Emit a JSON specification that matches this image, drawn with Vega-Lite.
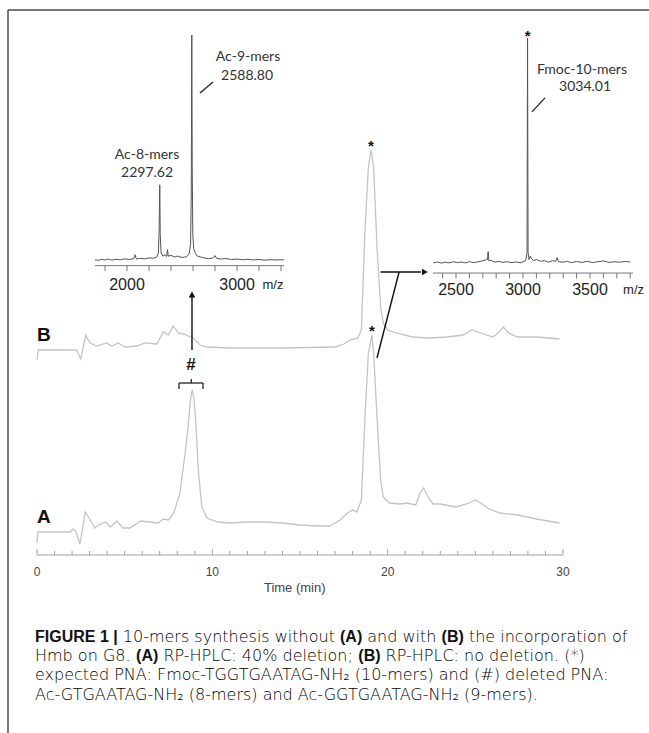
{
  "$schema": "https://vega.github.io/schema/vega-lite/v6.json",
  "width": 649,
  "height": 733,
  "autosize": {"type": "none"},
  "padding": 0,
  "background": "white",
  "config": {"view": {"stroke": null}},
  "datasets": {
    "hplc": [
      {"trace":"A","t":0,"v":12},{"trace":"A","t":0.05,"v":23},{"trace":"A","t":1.9,"v":23},{"trace":"A","t":2.05,"v":26},{"trace":"A","t":2.2,"v":24},{"trace":"A","t":2.45,"v":11},{"trace":"A","t":2.75,"v":43},{"trace":"A","t":3.0,"v":36},{"trace":"A","t":3.3,"v":27},{"trace":"A","t":3.5,"v":30},{"trace":"A","t":3.9,"v":33},{"trace":"A","t":4.2,"v":28},{"trace":"A","t":4.55,"v":34},{"trace":"A","t":4.9,"v":27},{"trace":"A","t":5.3,"v":27},{"trace":"A","t":5.9,"v":34},{"trace":"A","t":6.4,"v":33},{"trace":"A","t":6.9,"v":32},{"trace":"A","t":7.2,"v":36},{"trace":"A","t":7.5,"v":35},{"trace":"A","t":7.8,"v":42},{"trace":"A","t":8.15,"v":62},{"trace":"A","t":8.45,"v":102},{"trace":"A","t":8.6,"v":125},{"trace":"A","t":8.75,"v":155},{"trace":"A","t":8.85,"v":165},{"trace":"A","t":8.95,"v":157},{"trace":"A","t":9.05,"v":135},{"trace":"A","t":9.2,"v":85},{"trace":"A","t":9.4,"v":48},{"trace":"A","t":9.7,"v":37},{"trace":"A","t":10.3,"v":33},{"trace":"A","t":11,"v":32},{"trace":"A","t":12,"v":33},{"trace":"A","t":13,"v":33},{"trace":"A","t":14,"v":32},{"trace":"A","t":15,"v":30},{"trace":"A","t":16,"v":29},{"trace":"A","t":16.7,"v":29},{"trace":"A","t":17.3,"v":35},{"trace":"A","t":17.7,"v":42},{"trace":"A","t":18.0,"v":45},{"trace":"A","t":18.25,"v":43},{"trace":"A","t":18.5,"v":55},{"trace":"A","t":18.7,"v":135},{"trace":"A","t":18.9,"v":202},{"trace":"A","t":19.1,"v":220},{"trace":"A","t":19.2,"v":202},{"trace":"A","t":19.4,"v":135},{"trace":"A","t":19.6,"v":75},{"trace":"A","t":19.75,"v":58},{"trace":"A","t":20.1,"v":52},{"trace":"A","t":20.7,"v":51},{"trace":"A","t":21.1,"v":52},{"trace":"A","t":21.6,"v":50},{"trace":"A","t":21.85,"v":62},{"trace":"A","t":22.05,"v":67},{"trace":"A","t":22.3,"v":58},{"trace":"A","t":22.6,"v":51},{"trace":"A","t":23.0,"v":51},{"trace":"A","t":23.6,"v":49},{"trace":"A","t":23.9,"v":48},{"trace":"A","t":24.5,"v":51},{"trace":"A","t":25.0,"v":55},{"trace":"A","t":25.3,"v":52},{"trace":"A","t":25.8,"v":46},{"trace":"A","t":26.4,"v":42},{"trace":"A","t":27.4,"v":40},{"trace":"A","t":28.5,"v":36},{"trace":"A","t":29.8,"v":32},
      {"trace":"B","t":0,"v":195},{"trace":"B","t":0.07,"v":205},{"trace":"B","t":2.26,"v":205},{"trace":"B","t":2.49,"v":196},{"trace":"B","t":2.78,"v":220},{"trace":"B","t":3.02,"v":212},{"trace":"B","t":3.4,"v":209},{"trace":"B","t":3.97,"v":212},{"trace":"B","t":4.26,"v":209},{"trace":"B","t":4.64,"v":212},{"trace":"B","t":5.02,"v":208},{"trace":"B","t":5.69,"v":209},{"trace":"B","t":6.16,"v":212},{"trace":"B","t":6.83,"v":211},{"trace":"B","t":7.21,"v":223},{"trace":"B","t":7.49,"v":220},{"trace":"B","t":7.78,"v":229},{"trace":"B","t":8.06,"v":222},{"trace":"B","t":8.35,"v":221},{"trace":"B","t":8.63,"v":219},{"trace":"B","t":8.92,"v":217},{"trace":"B","t":9.3,"v":210},{"trace":"B","t":9.68,"v":208},{"trace":"B","t":11,"v":207},{"trace":"B","t":14,"v":207},{"trace":"B","t":17,"v":208},{"trace":"B","t":17.5,"v":211},{"trace":"B","t":17.85,"v":215},{"trace":"B","t":18.3,"v":217},{"trace":"B","t":18.5,"v":225},{"trace":"B","t":18.7,"v":322},{"trace":"B","t":18.9,"v":388},{"trace":"B","t":19.05,"v":405},{"trace":"B","t":19.2,"v":388},{"trace":"B","t":19.4,"v":305},{"trace":"B","t":19.6,"v":248},{"trace":"B","t":19.75,"v":232},{"trace":"B","t":20.0,"v":225},{"trace":"B","t":20.5,"v":222},{"trace":"B","t":21.4,"v":218},{"trace":"B","t":22.4,"v":217},{"trace":"B","t":23.4,"v":218},{"trace":"B","t":24.3,"v":220},{"trace":"B","t":24.8,"v":225},{"trace":"B","t":25.3,"v":222},{"trace":"B","t":26.0,"v":218},{"trace":"B","t":26.3,"v":222},{"trace":"B","t":26.6,"v":228},{"trace":"B","t":26.9,"v":222},{"trace":"B","t":27.4,"v":218},{"trace":"B","t":28.5,"v":218},{"trace":"B","t":29.8,"v":216}
    ],
    "frame": [
      {"t":-1.654,"t2":40,"v":545,"v2":545},
      {"t":-1.654,"t2":-1.654,"v":545,"v2":-200}
    ],
    "main_axis": [{"t":0,"t2":30}],
    "main_minor": [{"t":1},{"t":2},{"t":3},{"t":4},{"t":5},{"t":6},{"t":7},{"t":8},{"t":9},{"t":11},{"t":12},{"t":13},{"t":14},{"t":15},{"t":16},{"t":17},{"t":18},{"t":19},{"t":21},{"t":22},{"t":23},{"t":24},{"t":25},{"t":26},{"t":27},{"t":28},{"t":29}],
    "main_major": [{"t":0,"label":"0"},{"t":10,"label":"10"},{"t":20,"label":"20"},{"t":30,"label":"30"}],
    "main_title": [{"t":14.7,"label":"Time (min)"}],
    "trace_labels": [{"t":0,"v":38,"label":"A"},{"t":0,"v":220,"label":"B"}],
    "hash": [{"t":8.78,"v":190,"label":"#"}],
    "stars": [{"t":19.05,"v":409,"label":"*"},{"t":19.1,"v":224,"label":"*"}],
    "bracket": [
      {"t":8.1,"t2":9.47,"v":172,"v2":172},
      {"t":8.1,"t2":8.1,"v":172,"v2":166},
      {"t":9.47,"t2":9.47,"v":172,"v2":166},
      {"t":8.8,"t2":8.8,"v":172,"v2":176}
    ],
    "pointers": [
      {"t":8.84,"t2":8.84,"v":205,"v2":258},
      {"t":19.6,"t2":21.9,"v":283,"v2":283},
      {"t":20.65,"t2":19.39,"v":283,"v2":197}
    ],
    "arrow_up": [{"t":8.84,"v":260.5}],
    "arrow_right": [{"t":22.12,"v":283}],
    "ms1": [
      {"mz":1709,"rel":1.0},{"mz":1740,"rel":0.7},{"mz":1770,"rel":1.2},{"mz":1800,"rel":0.9},{"mz":1830,"rel":1.3},{"mz":1860,"rel":0.8},{"mz":1900,"rel":1.2},{"mz":1940,"rel":1.0},{"mz":1980,"rel":1.4},{"mz":2020,"rel":1.1},{"mz":2060,"rel":1.5},{"mz":2073,"rel":3.2},{"mz":2085,"rel":1.3},{"mz":2120,"rel":1.6},{"mz":2160,"rel":1.4},{"mz":2200,"rel":1.8},{"mz":2240,"rel":1.6},{"mz":2270,"rel":2.2},{"mz":2285,"rel":4},{"mz":2292,"rel":14},{"mz":2297.6,"rel":34},{"mz":2302,"rel":12},{"mz":2310,"rel":4},{"mz":2325,"rel":2.6},{"mz":2345,"rel":3.2},{"mz":2360,"rel":2.4},{"mz":2368,"rel":5.5},{"mz":2375,"rel":2.5},{"mz":2400,"rel":3.0},{"mz":2430,"rel":2.2},{"mz":2460,"rel":2.6},{"mz":2500,"rel":2.0},{"mz":2540,"rel":2.3},{"mz":2565,"rel":3.5},{"mz":2578,"rel":8},{"mz":2584,"rel":30},{"mz":2588.8,"rel":100},{"mz":2593,"rel":40},{"mz":2598,"rel":12},{"mz":2606,"rel":6},{"mz":2620,"rel":4},{"mz":2640,"rel":2.6},{"mz":2670,"rel":2.2},{"mz":2700,"rel":1.8},{"mz":2740,"rel":1.5},{"mz":2780,"rel":1.7},{"mz":2800,"rel":2.8},{"mz":2815,"rel":1.6},{"mz":2850,"rel":1.3},{"mz":2900,"rel":1.5},{"mz":2950,"rel":1.1},{"mz":3000,"rel":1.3},{"mz":3050,"rel":1.0},{"mz":3100,"rel":1.2},{"mz":3150,"rel":0.9},{"mz":3200,"rel":1.1},{"mz":3250,"rel":0.8},{"mz":3300,"rel":1.0},{"mz":3350,"rel":0.9},{"mz":3427,"rel":1.0}
    ],
    "ms1_axis": [{"mz":1709,"mz2":3427}],
    "ms1_ticks": [{"mz":1800},{"mz":2000},{"mz":2200},{"mz":2400},{"mz":2600},{"mz":2800},{"mz":3000},{"mz":3200},{"mz":3400}],
    "ms1_ticklabels": [{"mz":2000,"label":"2000"},{"mz":3000,"label":"3000"}],
    "ms1_unit": [{"mz":3327,"label":"m/z"}],
    "ms1_peaklabels": [
      {"mz":3100,"rel":90.3,"label":"Ac-9-mers"},
      {"mz":3091,"rel":81.9,"label":"2588.80"},
      {"mz":2182,"rel":47.1,"label":"Ac-8-mers"},
      {"mz":2182,"rel":39.2,"label":"2297.62"}
    ],
    "ms1_leader": [{"mz":2663,"mz2":2782,"rel":74.4,"rel2":79.3}],
    "ms2": [
      {"mz":2330,"rel":0.5},{"mz":2360,"rel":0.9},{"mz":2390,"rel":0.4},{"mz":2420,"rel":0.8},{"mz":2450,"rel":0.5},{"mz":2480,"rel":1.0},{"mz":2510,"rel":0.6},{"mz":2540,"rel":0.9},{"mz":2570,"rel":0.5},{"mz":2600,"rel":1.0},{"mz":2630,"rel":0.6},{"mz":2660,"rel":0.9},{"mz":2690,"rel":1.3},{"mz":2720,"rel":1.8},{"mz":2735,"rel":2.0},{"mz":2740,"rel":5.5},{"mz":2745,"rel":1.5},{"mz":2760,"rel":1.6},{"mz":2790,"rel":0.8},{"mz":2820,"rel":1.2},{"mz":2850,"rel":0.7},{"mz":2880,"rel":1.0},{"mz":2910,"rel":0.6},{"mz":2950,"rel":0.9},{"mz":2980,"rel":0.5},{"mz":3000,"rel":1.0},{"mz":3020,"rel":1.5},{"mz":3030,"rel":5},{"mz":3034,"rel":100},{"mz":3038,"rel":5},{"mz":3045,"rel":2},{"mz":3055,"rel":3.5},{"mz":3065,"rel":2.2},{"mz":3080,"rel":1.5},{"mz":3100,"rel":2.0},{"mz":3130,"rel":1.2},{"mz":3160,"rel":1.5},{"mz":3190,"rel":0.8},{"mz":3220,"rel":1.5},{"mz":3245,"rel":1.2},{"mz":3255,"rel":2.8},{"mz":3265,"rel":1.0},{"mz":3300,"rel":0.8},{"mz":3330,"rel":1.2},{"mz":3360,"rel":0.6},{"mz":3400,"rel":1.1},{"mz":3440,"rel":0.7},{"mz":3480,"rel":1.2},{"mz":3520,"rel":0.6},{"mz":3560,"rel":1.0},{"mz":3600,"rel":1.4},{"mz":3640,"rel":0.7},{"mz":3680,"rel":1.0},{"mz":3720,"rel":0.8},{"mz":3760,"rel":1.1},{"mz":3800,"rel":0.9}
    ],
    "ms2_axis": [{"mz":2328,"mz2":3821}],
    "ms2_ticks": [{"mz":2400},{"mz":2500},{"mz":2600},{"mz":2700},{"mz":2800},{"mz":2900},{"mz":3000},{"mz":3100},{"mz":3200},{"mz":3300},{"mz":3400},{"mz":3500},{"mz":3600},{"mz":3700},{"mz":3800}],
    "ms2_ticklabels": [{"mz":2500,"label":"2500"},{"mz":3000,"label":"3000"},{"mz":3500,"label":"3500"}],
    "ms2_unit": [{"mz":3825,"label":"m/z"}],
    "ms2_star": [{"mz":3034,"rel":100.9,"label":"*"}],
    "ms2_peaklabels": [
      {"mz":3440,"rel":85.8,"label":"Fmoc-10-mers"},
      {"mz":3463,"rel":78.3,"label":"3034.01"}
    ],
    "ms2_leader": [{"mz":3067,"mz2":3164,"rel":67.3,"rel2":73.5}],
    "cap_bold": [
      {"line":1,"x":35,"text":"FIGURE 1 |"},
      {"line":1,"x":340,"text":"(A)"},
      {"line":1,"x":441.6,"text":"(B)"},
      {"line":2,"x":136.1,"text":"(A)"},
      {"line":2,"x":358.3,"text":"(B)"}
    ],
    "cap_regular": [
      {"line":1,"x":122.8,"text":"10-mers synthesis without"},
      {"line":1,"x":367.3,"text":"and with"},
      {"line":1,"x":468.9,"text":"the incorporation of"},
      {"line":2,"x":35,"text":"Hmb on G8."},
      {"line":2,"x":163.4,"text":"RP-HPLC: 40% deletion;"},
      {"line":2,"x":385.6,"text":"RP-HPLC: no deletion. (*)"},
      {"line":3,"x":35,"text":"expected PNA: Fmoc-TGGTGAATAG-NH₂ (10-mers) and (#) deleted PNA:"},
      {"line":4,"x":35,"text":"Ac-GTGAATAG-NH₂ (8-mers) and Ac-GGTGAATAG-NH₂ (9-mers)."}
    ]
  },
  "resolve": {"scale": {"x": "independent", "y": "independent"}},
  "layer": [
    {
      "layer": [
        {
          "data": {"name": "frame"},
          "mark": {"type": "rule", "color": "#4d4d4d", "strokeWidth": 1.5},
          "encoding": {
            "x": {"field": "t", "type": "quantitative", "scale": {"domain": [0, 30], "range": [37, 563], "nice": false, "zero": false}, "axis": null},
            "x2": {"field": "t2"},
            "y": {"field": "v", "type": "quantitative", "scale": {"domain": [0, 545], "range": [555, 10], "nice": false, "zero": false}, "axis": null},
            "y2": {"field": "v2"}
          }
        },
        {
          "data": {"name": "hplc"},
          "mark": {"type": "line", "color": "#c4c4c4", "strokeWidth": 1.3},
          "encoding": {
            "x": {"field": "t", "type": "quantitative", "scale": {"domain": [0, 30], "range": [37, 563], "nice": false, "zero": false}, "axis": null},
            "y": {"field": "v", "type": "quantitative", "scale": {"domain": [0, 545], "range": [555, 10], "nice": false, "zero": false}, "axis": null},
            "detail": {"field": "trace", "type": "nominal"}
          }
        },
        {
          "data": {"name": "main_axis"},
          "mark": {"type": "rule", "color": "#a0a0a0", "strokeWidth": 1},
          "encoding": {
            "x": {"field": "t", "type": "quantitative", "scale": {"domain": [0, 30], "range": [37, 563], "nice": false, "zero": false}, "axis": null},
            "x2": {"field": "t2"},
            "y": {"datum": 0, "type": "quantitative", "scale": {"domain": [0, 545], "range": [555, 10], "nice": false, "zero": false}, "axis": null}
          }
        },
        {
          "data": {"name": "main_minor"},
          "mark": {"type": "rule", "color": "#a0a0a0", "strokeWidth": 1},
          "encoding": {
            "x": {"field": "t", "type": "quantitative", "scale": {"domain": [0, 30], "range": [37, 563], "nice": false, "zero": false}, "axis": null},
            "y": {"datum": 0, "type": "quantitative", "scale": {"domain": [0, 545], "range": [555, 10], "nice": false, "zero": false}, "axis": null},
            "y2": {"datum": 4}
          }
        },
        {
          "data": {"name": "main_major"},
          "mark": {"type": "rule", "color": "#a0a0a0", "strokeWidth": 1},
          "encoding": {
            "x": {"field": "t", "type": "quantitative", "scale": {"domain": [0, 30], "range": [37, 563], "nice": false, "zero": false}, "axis": null},
            "y": {"datum": 0, "type": "quantitative", "scale": {"domain": [0, 545], "range": [555, 10], "nice": false, "zero": false}, "axis": null},
            "y2": {"datum": 6}
          }
        },
        {
          "data": {"name": "main_major"},
          "mark": {"type": "text", "font": "Liberation Sans", "fontSize": 12, "color": "#444", "baseline": "middle", "align": "center"},
          "encoding": {
            "x": {"field": "t", "type": "quantitative", "scale": {"domain": [0, 30], "range": [37, 563], "nice": false, "zero": false}, "axis": null},
            "y": {"datum": -17, "type": "quantitative", "scale": {"domain": [0, 545], "range": [555, 10], "nice": false, "zero": false}, "axis": null},
            "text": {"field": "label"}
          }
        },
        {
          "data": {"name": "main_title"},
          "mark": {"type": "text", "font": "Liberation Sans", "fontSize": 13, "color": "#444", "baseline": "middle", "align": "center"},
          "encoding": {
            "x": {"field": "t", "type": "quantitative", "scale": {"domain": [0, 30], "range": [37, 563], "nice": false, "zero": false}, "axis": null},
            "y": {"datum": -33, "type": "quantitative", "scale": {"domain": [0, 545], "range": [555, 10], "nice": false, "zero": false}, "axis": null},
            "text": {"field": "label"}
          }
        },
        {
          "data": {"name": "trace_labels"},
          "mark": {"type": "text", "font": "Liberation Sans", "fontWeight": "bold", "fontSize": 19, "color": "#111", "baseline": "middle", "align": "left"},
          "encoding": {
            "x": {"field": "t", "type": "quantitative", "scale": {"domain": [0, 30], "range": [37, 563], "nice": false, "zero": false}, "axis": null},
            "y": {"field": "v", "type": "quantitative", "scale": {"domain": [0, 545], "range": [555, 10], "nice": false, "zero": false}, "axis": null},
            "text": {"field": "label"}
          }
        },
        {
          "data": {"name": "hash"},
          "mark": {"type": "text", "font": "Liberation Sans", "fontWeight": "bold", "fontSize": 17, "color": "#111", "baseline": "middle", "align": "center"},
          "encoding": {
            "x": {"field": "t", "type": "quantitative", "scale": {"domain": [0, 30], "range": [37, 563], "nice": false, "zero": false}, "axis": null},
            "y": {"field": "v", "type": "quantitative", "scale": {"domain": [0, 545], "range": [555, 10], "nice": false, "zero": false}, "axis": null},
            "text": {"field": "label"}
          }
        },
        {
          "data": {"name": "stars"},
          "mark": {"type": "text", "font": "Liberation Sans", "fontWeight": "bold", "fontSize": 15, "color": "#111", "baseline": "middle", "align": "center"},
          "encoding": {
            "x": {"field": "t", "type": "quantitative", "scale": {"domain": [0, 30], "range": [37, 563], "nice": false, "zero": false}, "axis": null},
            "y": {"field": "v", "type": "quantitative", "scale": {"domain": [0, 545], "range": [555, 10], "nice": false, "zero": false}, "axis": null},
            "text": {"field": "label"}
          }
        },
        {
          "data": {"name": "bracket"},
          "mark": {"type": "rule", "color": "#222", "strokeWidth": 1.3},
          "encoding": {
            "x": {"field": "t", "type": "quantitative", "scale": {"domain": [0, 30], "range": [37, 563], "nice": false, "zero": false}, "axis": null},
            "x2": {"field": "t2"},
            "y": {"field": "v", "type": "quantitative", "scale": {"domain": [0, 545], "range": [555, 10], "nice": false, "zero": false}, "axis": null},
            "y2": {"field": "v2"}
          }
        },
        {
          "data": {"name": "pointers"},
          "mark": {"type": "rule", "color": "#111", "strokeWidth": 1.4},
          "encoding": {
            "x": {"field": "t", "type": "quantitative", "scale": {"domain": [0, 30], "range": [37, 563], "nice": false, "zero": false}, "axis": null},
            "x2": {"field": "t2"},
            "y": {"field": "v", "type": "quantitative", "scale": {"domain": [0, 545], "range": [555, 10], "nice": false, "zero": false}, "axis": null},
            "y2": {"field": "v2"}
          }
        },
        {
          "data": {"name": "arrow_up"},
          "mark": {"type": "point", "shape": "triangle-up", "filled": true, "color": "#111", "size": 45, "opacity": 1},
          "encoding": {
            "x": {"field": "t", "type": "quantitative", "scale": {"domain": [0, 30], "range": [37, 563], "nice": false, "zero": false}, "axis": null},
            "y": {"field": "v", "type": "quantitative", "scale": {"domain": [0, 545], "range": [555, 10], "nice": false, "zero": false}, "axis": null}
          }
        },
        {
          "data": {"name": "arrow_right"},
          "mark": {"type": "point", "shape": "triangle-right", "filled": true, "color": "#111", "size": 45, "opacity": 1},
          "encoding": {
            "x": {"field": "t", "type": "quantitative", "scale": {"domain": [0, 30], "range": [37, 563], "nice": false, "zero": false}, "axis": null},
            "y": {"field": "v", "type": "quantitative", "scale": {"domain": [0, 545], "range": [555, 10], "nice": false, "zero": false}, "axis": null}
          }
        }
      ]
    },
    {
      "layer": [
        {
          "data": {"name": "ms1"},
          "mark": {"type": "line", "color": "#555", "strokeWidth": 1},
          "encoding": {
            "x": {"field": "mz", "type": "quantitative", "scale": {"domain": [1709, 3427], "range": [95, 284], "nice": false, "zero": false}, "axis": null},
            "y": {"field": "rel", "type": "quantitative", "scale": {"domain": [0, 100], "range": [262, 35], "nice": false, "zero": false}, "axis": null}
          }
        },
        {
          "data": {"name": "ms1_axis"},
          "mark": {"type": "rule", "color": "#777", "strokeWidth": 1},
          "encoding": {
            "x": {"field": "mz", "type": "quantitative", "scale": {"domain": [1709, 3427], "range": [95, 284], "nice": false, "zero": false}, "axis": null},
            "x2": {"field": "mz2"},
            "y": {"datum": -1.6, "type": "quantitative", "scale": {"domain": [0, 100], "range": [262, 35], "nice": false, "zero": false}, "axis": null}
          }
        },
        {
          "data": {"name": "ms1_ticks"},
          "mark": {"type": "rule", "color": "#777", "strokeWidth": 1},
          "encoding": {
            "x": {"field": "mz", "type": "quantitative", "scale": {"domain": [1709, 3427], "range": [95, 284], "nice": false, "zero": false}, "axis": null},
            "y": {"datum": -1.6, "type": "quantitative", "scale": {"domain": [0, 100], "range": [262, 35], "nice": false, "zero": false}, "axis": null},
            "y2": {"datum": -4}
          }
        },
        {
          "data": {"name": "ms1_ticklabels"},
          "mark": {"type": "text", "font": "Liberation Sans", "fontSize": 16, "color": "#222", "baseline": "middle", "align": "center"},
          "encoding": {
            "x": {"field": "mz", "type": "quantitative", "scale": {"domain": [1709, 3427], "range": [95, 284], "nice": false, "zero": false}, "axis": null},
            "y": {"datum": -10.1, "type": "quantitative", "scale": {"domain": [0, 100], "range": [262, 35], "nice": false, "zero": false}, "axis": null},
            "text": {"field": "label"}
          }
        },
        {
          "data": {"name": "ms1_unit"},
          "mark": {"type": "text", "font": "Liberation Sans", "fontSize": 13, "color": "#222", "baseline": "middle", "align": "center"},
          "encoding": {
            "x": {"field": "mz", "type": "quantitative", "scale": {"domain": [1709, 3427], "range": [95, 284], "nice": false, "zero": false}, "axis": null},
            "y": {"datum": -10.1, "type": "quantitative", "scale": {"domain": [0, 100], "range": [262, 35], "nice": false, "zero": false}, "axis": null},
            "text": {"field": "label"}
          }
        },
        {
          "data": {"name": "ms1_peaklabels"},
          "mark": {"type": "text", "font": "Lato", "fontSize": 14, "color": "#333", "baseline": "middle", "align": "center"},
          "encoding": {
            "x": {"field": "mz", "type": "quantitative", "scale": {"domain": [1709, 3427], "range": [95, 284], "nice": false, "zero": false}, "axis": null},
            "y": {"field": "rel", "type": "quantitative", "scale": {"domain": [0, 100], "range": [262, 35], "nice": false, "zero": false}, "axis": null},
            "text": {"field": "label"}
          }
        },
        {
          "data": {"name": "ms1_leader"},
          "mark": {"type": "rule", "color": "#222", "strokeWidth": 1.3},
          "encoding": {
            "x": {"field": "mz", "type": "quantitative", "scale": {"domain": [1709, 3427], "range": [95, 284], "nice": false, "zero": false}, "axis": null},
            "x2": {"field": "mz2"},
            "y": {"field": "rel", "type": "quantitative", "scale": {"domain": [0, 100], "range": [262, 35], "nice": false, "zero": false}, "axis": null},
            "y2": {"field": "rel2"}
          }
        }
      ]
    },
    {
      "layer": [
        {
          "data": {"name": "ms2"},
          "mark": {"type": "line", "color": "#555", "strokeWidth": 1},
          "encoding": {
            "x": {"field": "mz", "type": "quantitative", "scale": {"domain": [2500, 3500], "range": [456, 590], "nice": false, "zero": false}, "axis": null},
            "y": {"field": "rel", "type": "quantitative", "scale": {"domain": [0, 100], "range": [264, 38], "nice": false, "zero": false}, "axis": null}
          }
        },
        {
          "data": {"name": "ms2_axis"},
          "mark": {"type": "rule", "color": "#777", "strokeWidth": 1},
          "encoding": {
            "x": {"field": "mz", "type": "quantitative", "scale": {"domain": [2500, 3500], "range": [456, 590], "nice": false, "zero": false}, "axis": null},
            "x2": {"field": "mz2"},
            "y": {"datum": -4, "type": "quantitative", "scale": {"domain": [0, 100], "range": [264, 38], "nice": false, "zero": false}, "axis": null}
          }
        },
        {
          "data": {"name": "ms2_ticks"},
          "mark": {"type": "rule", "color": "#777", "strokeWidth": 1},
          "encoding": {
            "x": {"field": "mz", "type": "quantitative", "scale": {"domain": [2500, 3500], "range": [456, 590], "nice": false, "zero": false}, "axis": null},
            "y": {"datum": -4, "type": "quantitative", "scale": {"domain": [0, 100], "range": [264, 38], "nice": false, "zero": false}, "axis": null},
            "y2": {"datum": -6.4}
          }
        },
        {
          "data": {"name": "ms2_ticklabels"},
          "mark": {"type": "text", "font": "Liberation Sans", "fontSize": 16, "color": "#222", "baseline": "middle", "align": "center"},
          "encoding": {
            "x": {"field": "mz", "type": "quantitative", "scale": {"domain": [2500, 3500], "range": [456, 590], "nice": false, "zero": false}, "axis": null},
            "y": {"datum": -11.5, "type": "quantitative", "scale": {"domain": [0, 100], "range": [264, 38], "nice": false, "zero": false}, "axis": null},
            "text": {"field": "label"}
          }
        },
        {
          "data": {"name": "ms2_unit"},
          "mark": {"type": "text", "font": "Liberation Sans", "fontSize": 13, "color": "#222", "baseline": "middle", "align": "center"},
          "encoding": {
            "x": {"field": "mz", "type": "quantitative", "scale": {"domain": [2500, 3500], "range": [456, 590], "nice": false, "zero": false}, "axis": null},
            "y": {"datum": -11.5, "type": "quantitative", "scale": {"domain": [0, 100], "range": [264, 38], "nice": false, "zero": false}, "axis": null},
            "text": {"field": "label"}
          }
        },
        {
          "data": {"name": "ms2_star"},
          "mark": {"type": "text", "font": "Liberation Sans", "fontWeight": "bold", "fontSize": 15, "color": "#111", "baseline": "middle", "align": "center"},
          "encoding": {
            "x": {"field": "mz", "type": "quantitative", "scale": {"domain": [2500, 3500], "range": [456, 590], "nice": false, "zero": false}, "axis": null},
            "y": {"field": "rel", "type": "quantitative", "scale": {"domain": [0, 100], "range": [264, 38], "nice": false, "zero": false}, "axis": null},
            "text": {"field": "label"}
          }
        },
        {
          "data": {"name": "ms2_peaklabels"},
          "mark": {"type": "text", "font": "Lato", "fontSize": 14, "color": "#333", "baseline": "middle", "align": "center"},
          "encoding": {
            "x": {"field": "mz", "type": "quantitative", "scale": {"domain": [2500, 3500], "range": [456, 590], "nice": false, "zero": false}, "axis": null},
            "y": {"field": "rel", "type": "quantitative", "scale": {"domain": [0, 100], "range": [264, 38], "nice": false, "zero": false}, "axis": null},
            "text": {"field": "label"}
          }
        },
        {
          "data": {"name": "ms2_leader"},
          "mark": {"type": "rule", "color": "#222", "strokeWidth": 1.3},
          "encoding": {
            "x": {"field": "mz", "type": "quantitative", "scale": {"domain": [2500, 3500], "range": [456, 590], "nice": false, "zero": false}, "axis": null},
            "x2": {"field": "mz2"},
            "y": {"field": "rel", "type": "quantitative", "scale": {"domain": [0, 100], "range": [264, 38], "nice": false, "zero": false}, "axis": null},
            "y2": {"field": "rel2"}
          }
        }
      ]
    },
    {
      "layer": [
        {
          "data": {"name": "cap_bold"},
          "mark": {"type": "text", "font": "Liberation Sans", "fontWeight": "bold", "fontSize": 16, "color": "#111", "baseline": "middle", "align": "left"},
          "encoding": {
            "x": {"field": "x", "type": "quantitative", "scale": {"domain": [0, 649], "range": [0, 649], "nice": false, "zero": false}, "axis": null},
            "y": {"field": "line", "type": "quantitative", "scale": {"domain": [1, 4], "range": [637, 694.6], "nice": false, "zero": false}, "axis": null},
            "text": {"field": "text"}
          }
        },
        {
          "data": {"name": "cap_regular"},
          "mark": {"type": "text", "font": "DejaVu Sans", "fontWeight": 300, "fontSize": 16, "color": "#000", "baseline": "middle", "align": "left"},
          "encoding": {
            "x": {"field": "x", "type": "quantitative", "scale": {"domain": [0, 649], "range": [0, 649], "nice": false, "zero": false}, "axis": null},
            "y": {"field": "line", "type": "quantitative", "scale": {"domain": [1, 4], "range": [637, 694.6], "nice": false, "zero": false}, "axis": null},
            "text": {"field": "text"}
          }
        }
      ]
    }
  ]
}
